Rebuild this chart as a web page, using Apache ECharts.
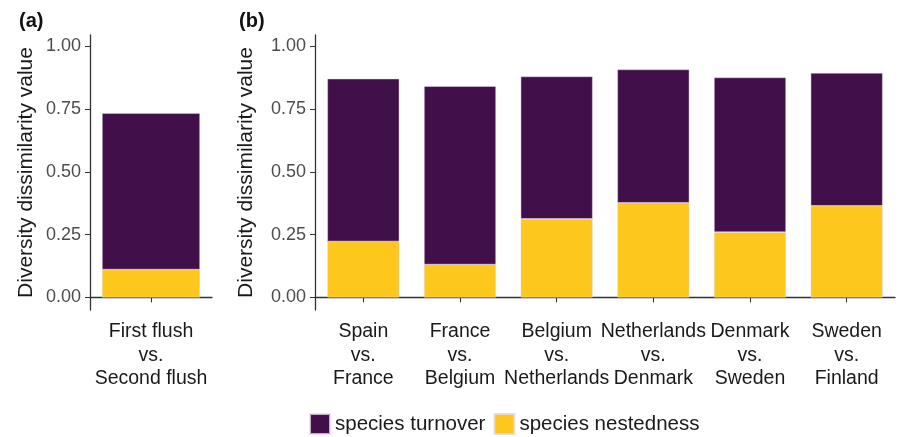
<!DOCTYPE html>
<html>
<head>
<meta charset="utf-8">
<script src="https://cdn.jsdelivr.net/npm/echarts@6/dist/echarts.min.js"></script>
<style>
html,body{margin:0;padding:0;background:#fff;}
#c{width:899px;height:437px;}
</style>
</head>
<body>
<div id="c"></div>
<script>
// Panel (a)
const catsA = ['First flush\nvs.\nSecond flush'];
const turnoverA = [0.623];
const nestedA = [0.111];
// Panel (b)
const catsB = ['Spain\nvs.\nFrance', 'France\nvs.\nBelgium', 'Belgium\nvs.\nNetherlands', 'Netherlands\nvs.\nDenmark', 'Denmark\nvs.\nSweden', 'Sweden\nvs.\nFinland'];
const nestedB = [0.223, 0.131, 0.313, 0.377, 0.260, 0.365];
const turnoverB = [0.648, 0.710, 0.567, 0.531, 0.616, 0.529];
const yTicks = [0, 0.25, 0.5, 0.75, 1.0];
const seriesNames = ['species turnover', 'species nestedness'];

const cTurn = '#41104a';
const cNest = '#fdc71c';
const font = 'Liberation Sans, Arial, sans-serif';

function yAxisDef(idx) {
  return {
    type: 'value', gridIndex: idx, min: -0.05, max: 1.045,
    name: 'Diversity dissimilarity value', nameLocation: 'middle',
    nameGap: idx === 0 ? 53 : 58,
    nameTextStyle: { fontSize: 21, color: '#1a1a1a', fontFamily: font },
    splitLine: { show: false },
    axisLine: { show: true, lineStyle: { color: '#333', width: 1.3 } },
    axisTick: { show: true, length: 5, customValues: yTicks, lineStyle: { color: '#333' } },
    axisLabel: { customValues: yTicks, fontSize: 18, color: '#4d4d4d', fontFamily: font, margin: 9,
      formatter: v => v.toFixed(2) }
  };
}
function xAxisDef(idx, cats) {
  return {
    type: 'category', gridIndex: idx, data: cats,
    axisLine: { show: true, lineStyle: { color: '#333', width: 1.3 } },
    axisTick: { show: true, alignWithLabel: true, length: 5, lineStyle: { color: '#333' } },
    axisLabel: { fontSize: 19.5, color: '#1a1a1a', fontFamily: font, lineHeight: 23.5, margin: 10, interval: 0 }
  };
}
const itemBorder = { borderColor: 'rgba(230,215,235,0.8)', borderWidth: 0.6 };

const option = {
  animation: false,
  backgroundColor: '#fff',
  textStyle: { fontFamily: font },
  title: [
    { text: '(a)', left: 14, top: 6, textStyle: { fontSize: 20, fontWeight: 'bold', color: '#111', fontFamily: font } },
    { text: '(b)', left: 234, top: 6, textStyle: { fontSize: 20, fontWeight: 'bold', color: '#111', fontFamily: font } }
  ],
  legend: {
    data: seriesNames, top: 408, left: 304, icon: 'rect', itemWidth: 20, itemHeight: 20, itemGap: 8,
    textStyle: { fontSize: 20.5, color: '#1a1a1a', fontFamily: font }
  },
  grid: [
    { left: 90, top: 35, width: 122, height: 275 },
    { left: 315, top: 35, width: 580, height: 275 }
  ],
  xAxis: [xAxisDef(0, catsA), xAxisDef(1, catsB)],
  yAxis: [yAxisDef(0), yAxisDef(1)],
  series: [
    { name: seriesNames[1], type: 'bar', stack: 'a', xAxisIndex: 0, yAxisIndex: 0, data: nestedA, barWidth: 98,
      itemStyle: Object.assign({ color: cNest }, itemBorder) },
    { name: seriesNames[0], type: 'bar', stack: 'a', xAxisIndex: 0, yAxisIndex: 0, data: turnoverA, barWidth: 98,
      itemStyle: Object.assign({ color: cTurn }, itemBorder) },
    { name: seriesNames[1], type: 'bar', stack: 'b', xAxisIndex: 1, yAxisIndex: 1, data: nestedB, barWidth: 72,
      itemStyle: Object.assign({ color: cNest }, itemBorder) },
    { name: seriesNames[0], type: 'bar', stack: 'b', xAxisIndex: 1, yAxisIndex: 1, data: turnoverB, barWidth: 72,
      itemStyle: Object.assign({ color: cTurn }, itemBorder) }
  ]
};
const chart = echarts.init(document.getElementById('c'), null, { renderer: 'canvas' });
chart.setOption(option);
</script>
</body>
</html>
